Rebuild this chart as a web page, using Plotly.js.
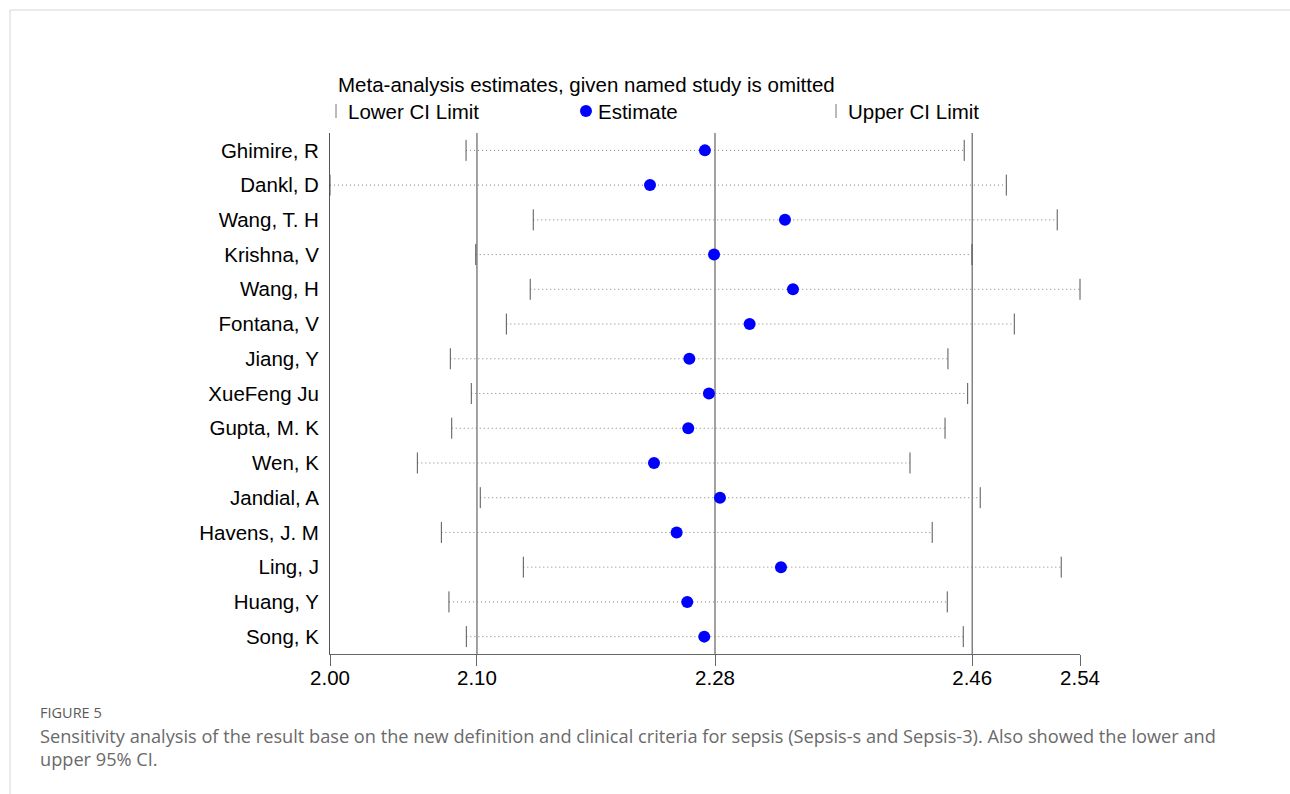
<!DOCTYPE html>
<html>
<head>
<meta charset="utf-8">
<script src="https://cdn.plot.ly/plotly-3.0.1.min.js"></script>
<style>
  html, body { margin: 0; padding: 0; background: #ffffff; }
  #chart { width: 1290px; height: 794px; }
</style>
</head>
<body>
<div id="chart"></div>
<script>
// ---- Data ----
const studies = [
  "Ghimire, R", "Dankl, D", "Wang, T. H", "Krishna, V", "Wang, H",
  "Fontana, V", "Jiang, Y", "XueFeng Ju", "Gupta, M. K", "Wen, K",
  "Jandial, A", "Havens, J. M", "Ling, J", "Huang, Y", "Song, K"
];
const lowerCI = [
  2.0956, 1.9970, 2.1443, 2.1026, 2.1421,
  2.1248, 2.0842, 2.0994, 2.0852, 2.0603,
  2.1059, 2.0777, 2.1371, 2.0832, 2.0958
];
const estimate = [
  2.2687, 2.2289, 2.3267, 2.2753, 2.3325,
  2.3011, 2.2574, 2.2716, 2.2566, 2.2318,
  2.2796, 2.2482, 2.3238, 2.2559, 2.2682
];
const upperCI = [
  2.4566, 2.4871, 2.5240, 2.4622, 2.5405,
  2.4929, 2.4448, 2.4591, 2.4427, 2.4173,
  2.4682, 2.4334, 2.5269, 2.4443, 2.4559
];
// overall estimate with its CI (reference lines) and axis ticks
const overallValues = [2.1035, 2.2760, 2.4624];
const tickValues = [1.9970, 2.1035, 2.2760, 2.4624, 2.5405];
const tickLabels = ["2.00", "2.10", "2.28", "2.46", "2.54"];

const titleText = "Meta-analysis estimates, given named study is omitted";
const legendLabels = ["Lower CI Limit", "Estimate", "Upper CI Limit"];
const figureLabel = "FIGURE 5";
const captionLines = [
  "Sensitivity analysis of the result base on the new definition and clinical criteria for sepsis (Sepsis-s and Sepsis-3). Also showed the lower and",
  "upper 95% CI."
];

// ---- Build traces ----
const FONT = "Liberation Sans, Arial, sans-serif";
const segX = [], segY = [];
studies.forEach((s, i) => {
  segX.push(lowerCI[i], upperCI[i], null);
  segY.push(s, s, null);
});

const traces = [
  {
    type: "scatter", mode: "lines", x: segX, y: segY,
    line: { color: "#7f7f7f", width: 1, dash: "1px,3px" },
    hoverinfo: "skip", showlegend: false, cliponaxis: false
  },
  {
    type: "scatter", mode: "markers", x: lowerCI, y: studies,
    marker: { symbol: "line-ns", size: 15, line: { color: "#555555", width: 1 } },
    showlegend: false, cliponaxis: false
  },
  {
    type: "scatter", mode: "markers", x: upperCI, y: studies,
    marker: { symbol: "line-ns", size: 15, line: { color: "#555555", width: 1 } },
    showlegend: false, cliponaxis: false
  },
  {
    type: "scatter", mode: "markers", x: estimate, y: studies,
    marker: { symbol: "circle", size: 12, color: "#0000ff" },
    showlegend: false, cliponaxis: false
  }
];

// ---- Shapes ----
const shapes = overallValues.map(v => ({
  type: "line", xref: "x", yref: "paper", x0: v, x1: v, y0: 0, y1: 1,
  line: { color: "#7a7a7a", width: 1.4 }, layer: "below"
}));
// outer figure frame
shapes.push({
  type: "rect", xref: "paper", yref: "paper",
  xsizemode: "pixel", ysizemode: "pixel", xanchor: 0, yanchor: 1,
  x0: -320, x1: 1000, y0: 123, y1: -700,
  line: { color: "#d6d6d6", width: 1 }, fillcolor: "rgba(0,0,0,0)"
});
// legend symbols
const legendY = 1.0422;
const legendSymX = [0.0080, 0.3413, 0.6747];
const legendTxtX = [0.0213, 0.3547, 0.6880];
[0, 2].forEach(k => {
  shapes.push({
    type: "line", xref: "paper", yref: "paper",
    ysizemode: "pixel", yanchor: legendY,
    x0: legendSymX[k], x1: legendSymX[k], y0: -7, y1: 7,
    line: { color: "#777777", width: 1 }
  });
});
shapes.push({
  type: "circle", xref: "paper", yref: "paper",
  xsizemode: "pixel", ysizemode: "pixel", xanchor: legendSymX[1], yanchor: legendY,
  x0: -6, x1: 6, y0: -6, y1: 6,
  fillcolor: "#0000ff", line: { color: "#0000ff", width: 0 }
});

// ---- Annotations ----
const annotations = [
  {
    text: titleText, xref: "paper", yref: "paper", x: 0.008, y: 1.0935,
    xanchor: "left", yanchor: "middle", showarrow: false,
    font: { family: FONT, size: 20.5, color: "#000000" }
  }
];
legendLabels.forEach((t, k) => annotations.push({
  text: t, xref: "paper", yref: "paper", x: legendTxtX[k], y: legendY,
  xanchor: "left", yanchor: "middle", showarrow: false,
  font: { family: FONT, size: 20.5, color: "#000000" }
}));
annotations.push({
  text: figureLabel, xref: "paper", yref: "paper", x: -0.3893, y: -0.1132,
  xanchor: "left", yanchor: "middle", showarrow: false,
  font: { family: "Open Sans, sans-serif", size: 14.5, color: "#5a5a5a" }
});
const capY = [-0.1574, -0.2015];
captionLines.forEach((t, k) => annotations.push({
  text: t, xref: "paper", yref: "paper", x: -0.3893, y: capY[k],
  xanchor: "left", yanchor: "middle", showarrow: false,
  font: { family: "Open Sans, sans-serif", size: 18.2, color: "#6a6a6a" }
}));

const layout = {
  width: 1290, height: 794,
  margin: { l: 330, r: 210, t: 133, b: 140, pad: 0 },
  paper_bgcolor: "#ffffff", plot_bgcolor: "#ffffff",
  showlegend: false,
  xaxis: {
    range: [tickValues[0], tickValues[tickValues.length - 1]],
    tickmode: "array", tickvals: tickValues, ticktext: tickLabels,
    showgrid: false, zeroline: false,
    showline: true, linecolor: "#666666", linewidth: 1,
    ticks: "outside", ticklen: 11, tickcolor: "#666666", tickwidth: 1,
    ticklabelstandoff: -6,
    tickfont: { family: FONT, size: 20.5, color: "#000000" }
  },
  yaxis: {
    type: "category", categoryorder: "array", categoryarray: studies,
    range: [studies.length - 0.5, -0.5],
    showgrid: false, zeroline: false,
    showline: true, linecolor: "#555555", linewidth: 1,
    ticks: "", ticklabelstandoff: 6,
    tickfont: { family: FONT, size: 20.5, color: "#000000" }
  },
  shapes: shapes,
  annotations: annotations
};

Plotly.newPlot("chart", traces, layout, { displayModeBar: false, staticPlot: true });
</script>
</body>
</html>
